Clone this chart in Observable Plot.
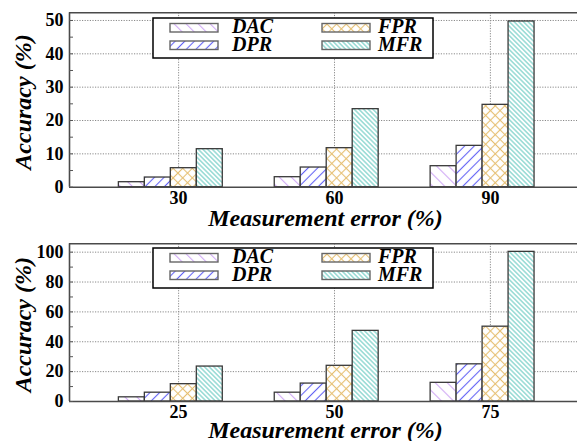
<!DOCTYPE html>
<html><head><meta charset="utf-8">
<script src="https://cdn.jsdelivr.net/npm/d3@7"></script>
<script src="https://cdn.jsdelivr.net/npm/@observablehq/plot@0.6"></script>
<style>
html,body{margin:0;padding:0;background:#fff;overflow:hidden;}
#chart svg{display:block;overflow:hidden;}
</style></head><body><div id="chart"></div>
<script>
const seriesNames = ["DAC", "DPR", "FPR", "MFR"];

const topGroups = ["30", "60", "90"];
const topDAC = [1.5, 3.0, 6.3];
const topDPR = [2.9, 5.9, 12.4];
const topFPR = [5.7, 11.7, 24.7];
const topMFR = [11.4, 23.4, 49.7];
const topTicks = [0, 10, 20, 30, 40, 50];
const topMinor = [5, 15, 25, 35, 45];

const bottomGroups = ["25", "50", "75"];
const bottomDAC = [2.8, 5.9, 12.5];
const bottomDPR = [5.9, 12.0, 24.9];
const bottomFPR = [11.6, 23.9, 50.1];
const bottomMFR = [23.4, 47.3, 100.2];
const bottomTicks = [0, 20, 40, 60, 80, 100];
const bottomMinor = [10, 30, 50, 70, 90];

const xTitle = "Measurement error (%)";
const yTitle = "Accuracy (%)";

const FONT = "'Liberation Serif', 'Times New Roman', serif";
const patternSpecs = [
  {color: "#cfa8f5", spacing: 8.5, angle: -45, cross: false},
  {color: "#6262f5", spacing: 6.8, angle: 45, cross: false},
  {color: "#e6bf72", spacing: 6.8, angle: 45, cross: true},
  {color: "#6fcdc4", spacing: 3.3, angle: -45, cross: false}
];

function addPatterns(svg, id) {
  const defs = d3.select(svg).insert("defs", ":first-child");
  patternSpecs.forEach((s, k) => {
    const p = defs.append("pattern")
      .attr("id", `${id}-p${k}`)
      .attr("patternUnits", "userSpaceOnUse")
      .attr("width", s.spacing).attr("height", s.spacing)
      .attr("patternTransform", `rotate(${s.angle})`);
    p.append("rect").attr("width", s.spacing).attr("height", s.spacing).attr("fill", "white");
    p.append("line").attr("x1", s.spacing / 2).attr("x2", s.spacing / 2)
      .attr("y1", 0).attr("y2", s.spacing)
      .attr("stroke", s.color).attr("stroke-width", 1.1);
    if (s.cross) {
      p.append("line").attr("y1", s.spacing / 2).attr("y2", s.spacing / 2)
        .attr("x1", 0).attr("x2", s.spacing)
        .attr("stroke", s.color).attr("stroke-width", 1.1);
    }
  });
}

function addLegend(svg, id) {
  const g = d3.select(svg).append("g").attr("text-anchor", "start");
  g.append("rect").attr("x", 153).attr("y", 18).attr("width", 280).attr("height", 40)
    .attr("fill", "white").attr("stroke", "black").attr("stroke-width", 1.5);
  const cols = [{sx: 170, tx: 232}, {sx: 322, tx: 378}];
  const rowsY = [23.5, 41];
  seriesNames.forEach((name, k) => {
    const c = cols[Math.floor(k / 2)];
    const ry = rowsY[k % 2];
    g.append("rect").attr("x", c.sx).attr("y", ry).attr("width", 48).attr("height", 8.5)
      .attr("fill", `url(#${id}-p${k})`).attr("stroke", "#666").attr("stroke-width", 1.4);
    g.append("text").attr("x", c.tx).attr("y", ry + 9.6)
      .attr("text-anchor", "start")
      .attr("font-family", FONT).attr("font-size", 20)
      .attr("font-weight", "bold").attr("font-style", "italic")
      .attr("fill", "black").text(name);
  });
}

function panel({id, groups, series, ticks, minor, yMax, height, marginTop, marginBottom, titleDy}) {
  const data = [];
  groups.forEach((g, gi) => series.forEach((vals, k) => {
    data.push({gi, k, group: g, name: seriesNames[k], value: vals[gi]});
  }));
  const xDomain = [-0.7, groups.length - 0.3];
  const svg = Plot.plot({
    width: 577,
    height,
    marginLeft: 69,
    marginRight: 0,
    marginTop,
    marginBottom,
    style: {fontFamily: FONT, background: "white", overflow: "hidden"},
    x: {type: "linear", domain: xDomain, range: [69, 599]},
    y: {domain: [0, yMax]},
    color: {type: "identity"},
    marks: [
      Plot.gridY({ticks: ticks.filter(v => v > 0), stroke: "#8a8a8a", strokeOpacity: 1, strokeWidth: 1, strokeDasharray: "1.2,1.4"}),
      Plot.gridX({ticks: groups.map((g, i) => i), stroke: "#8a8a8a", strokeOpacity: 1, strokeWidth: 1, strokeDasharray: "1.2,1.4"}),
      Plot.rectY(data, {
        x1: d => d.gi + (d.k - 2.3) / 6,
        x2: d => d.gi + (d.k - 1.3) / 6,
        y1: 0,
        y2: "value",
        fill: d => `url(#${id}-p${d.k})`,
        stroke: "#3a3a3a",
        strokeWidth: 1.3
      }),
      Plot.ruleY([0, yMax], {stroke: "#4a4a4a", strokeWidth: 1.6}),
      Plot.ruleX([xDomain[0]], {stroke: "#4a4a4a", strokeWidth: 1.6}),
      Plot.axisY({ticks: ticks.concat(minor), tickSize: -4, tickFormat: () => "", label: null, stroke: "#555"}),
      Plot.axisY({ticks, tickSize: 0, tickPadding: 6, label: null, fontSize: 18, fontWeight: "bold", fill: "black"}),
      Plot.axisX({ticks: groups.map((g, i) => i), tickFormat: i => groups[i], tickSize: 0, tickPadding: 4, label: null, fontSize: 18, fontWeight: "bold", fill: "black"}),
      Plot.text([xTitle], {text: d => d, frameAnchor: "bottom", textAnchor: "middle", lineAnchor: "bottom", dy: titleDy, dx: 2, fontSize: 24, fontWeight: "bold", fontStyle: "italic", fill: "black"}),
      Plot.text([yTitle], {text: d => d, frameAnchor: "left", textAnchor: "middle", rotate: -90, lineAnchor: "bottom", dx: -39, dy: 2, fontSize: 24, fontWeight: "bold", fontStyle: "italic", fill: "black"})
    ]
  });
  addPatterns(svg, id);
  addLegend(svg, id);
  return svg;
}

const chart = document.getElementById("chart");
chart.appendChild(panel({
  id: "top", groups: topGroups, series: [topDAC, topDPR, topFPR, topMFR],
  ticks: topTicks, minor: topMinor, yMax: 52.3, height: 230, marginTop: 12.3, marginBottom: 43.3, titleDy: 39
}));
chart.appendChild(panel({
  id: "bot", groups: bottomGroups, series: [bottomDAC, bottomDPR, bottomFPR, bottomMFR],
  ticks: bottomTicks, minor: bottomMinor, yMax: 105.6, height: 211, marginTop: 13.3, marginBottom: 40, titleDy: 36
}));
</script>
</body></html>
